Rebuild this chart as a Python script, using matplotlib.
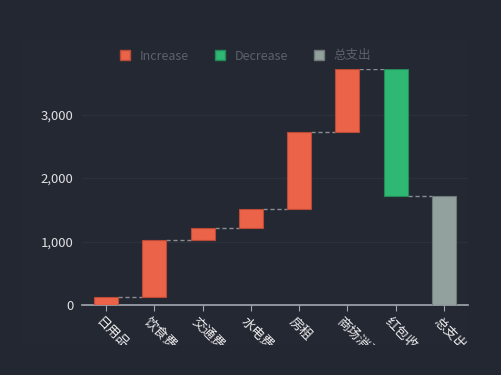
import matplotlib
matplotlib.use('Agg')
import matplotlib.pyplot as plt
from matplotlib.patches import Rectangle, Patch
import matplotlib.transforms as mtransforms
import numpy as np

plt.rcParams['font.family'] = ['Noto Sans CJK SC', 'DejaVu Sans']

categories = ['日用品', '饮食费', '交通费', '水电费', '房租', '商场消费', '红包收入', '总支出']
# signed changes; last item is the total
changes = [120, 900, 200, 300, 1200, 1000, -2000]
total = 1720

bg = '#232731'
inner_bg = '#242833'
c_inc = '#eb6349'
c_dec = '#2eb873'
c_tot = '#93a19e'

fig = plt.figure(figsize=(5.02, 3.75), dpi=100, facecolor=bg)
fig.patches.append(Rectangle((22 / 502, 30 / 375), 445 / 502, 305 / 375,
                             transform=fig.transFigure, facecolor=inner_bg,
                             edgecolor='none', zorder=-1))
ax = fig.add_axes([82 / 502, 70 / 375, 386 / 502, 236 / 375])
ax.set_facecolor('none')

x = np.arange(len(categories))
starts = np.concatenate([[0], np.cumsum(changes)[:-1]])
ends = np.cumsum(changes)
w = 0.5

for i, (s, e) in enumerate(zip(starts, ends)):
    col = c_inc if e >= s else c_dec
    edge = '#b84a36' if e >= s else '#238a57'
    ax.bar(x[i], e - s, bottom=s, width=w, color=col, edgecolor=edge,
           linewidth=0.8, zorder=3)
ax.bar(x[-1], total, width=w, color=c_tot, edgecolor='#6e7a77',
       linewidth=0.8, zorder=3)

# connectors
levels = list(ends)
for i in range(len(categories) - 1):
    ax.plot([x[i] + w / 2, x[i + 1] - w / 2], [levels[i], levels[i]],
            color='#8a8d92', linestyle=(0, (3, 2)), linewidth=1.0, zorder=2)

ax.set_xlim(-0.5, len(categories) - 0.5)
ax.set_ylim(0, 3720)
ax.set_yticks([0, 1000, 2000, 3000])
ax.set_yticklabels(['0', '1,000', '2,000', '3,000'])
ax.grid(axis='y', color='#2c303a', linewidth=1, zorder=0)
ax.set_axisbelow(True)

for sp in ['top', 'right', 'left']:
    ax.spines[sp].set_visible(False)
ax.spines['bottom'].set_color('#a3a7ae')
ax.spines['bottom'].set_linewidth(1.2)
ax.tick_params(axis='y', length=0, colors='#e0e0e0', labelsize=9.5, pad=6)
ax.tick_params(axis='x', length=4, color='#a3a7ae', colors='#ececec',
               labelsize=9.5, pad=3)
ax.set_xticks(x)
ax.set_xticklabels(categories, rotation=-45, ha='left', va='top',
                   rotation_mode='anchor')
offset = mtransforms.ScaledTranslation(-4 / 100, 0, fig.dpi_scale_trans)
for lbl in ax.get_xticklabels():
    lbl.set_transform(lbl.get_transform() + offset)

handles = [Patch(facecolor=c_inc, edgecolor='#b84a36', label='Increase'),
           Patch(facecolor=c_dec, edgecolor='#238a57', label='Decrease'),
           Patch(facecolor=c_tot, edgecolor='#6e7a77', label='总支出')]
leg = fig.legend(handles=handles, loc='center', bbox_to_anchor=(0.489, 1 - 56 / 375),
                 ncol=3, frameon=False, fontsize=9, handlelength=0.85,
                 handleheight=0.85, handletextpad=0.75, columnspacing=2.05)
for t in leg.get_texts():
    t.set_color('#5d6169')

# clip rotated labels at the bottom of the inner panel
fig.patches.append(Rectangle((0, 0), 1, 30 / 375, transform=fig.transFigure,
                             facecolor=bg, edgecolor='none', zorder=10))

fig.savefig('out.png', dpi=100, facecolor=bg)
